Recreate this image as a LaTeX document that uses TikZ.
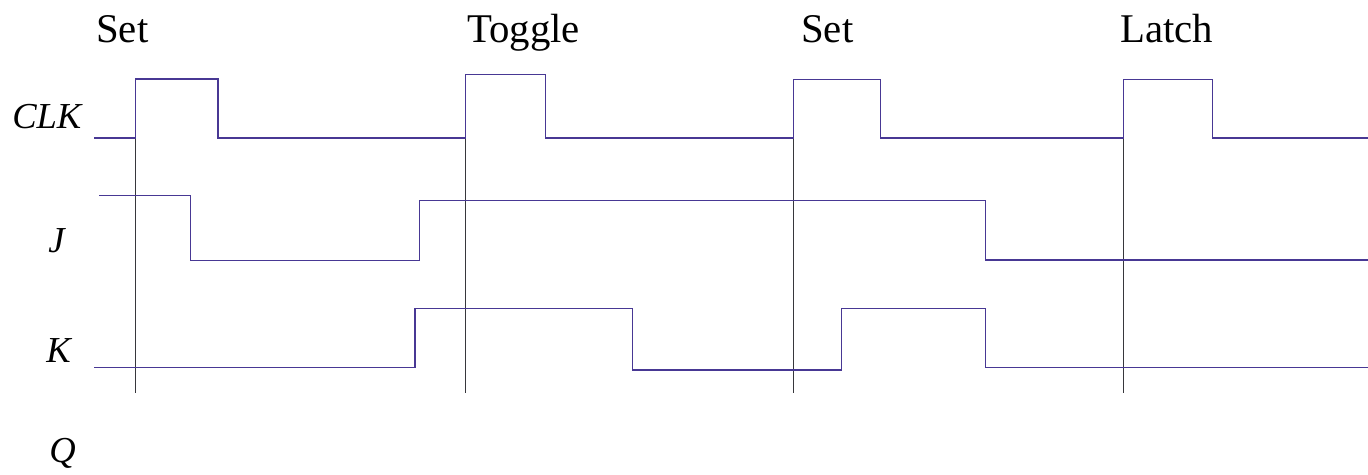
\documentclass[tikz,border=0pt]{standalone}
\usepackage{fontspec}
\setmainfont{Liberation Serif}
\definecolor{wavecol}{RGB}{72,56,148}
\definecolor{markcol}{RGB}{55,55,60}

\begin{document}
\begin{tikzpicture}[x=0.025cm, y=-0.025cm,
  wave/.style={line width=0.9pt, wavecol},
  marker/.style={line width=0.7pt, markcol},
  title/.style={anchor=base west, inner sep=0pt, font=\fontsize{29}{34}\selectfont},
  sig/.style={anchor=base west, inner sep=0pt, font=\fontsize{26}{31}\selectfont\itshape}]
\useasboundingbox (0,0) rectangle (1368,474);
\node[title] (setA) at (96,42) {Set};
\node[title] (toggle) at (467,42) {Toggle};
\node[title] (setB) at (801,42) {Set};
\node[title] (latch) at (1120,42) {Latch};
\node[sig] (clk) at (12,128) {CLK};
\node[sig] (j) at (48,252) {J};
\node[sig] (k) at (46,362) {K};
\node[sig] (q) at (49,462) {Q};
\foreach \x in {135.6,465.7,793.3,1123.3}
  \draw[marker] (\x,79) -- (\x,393);
\draw[wave] (94,138) -| (135.6,79) -| (218,138) -| (465.7,74.7) -| (545.7,138)
  -| (793.3,79.3) -| (880.3,138) -| (1123.3,79.3) -| (1212.3,138) -- (1368,138);
\draw[wave] (99,195.7) -| (190.3,260.3) -| (419.7,200.7) -| (985.7,260) -- (1368,260);
\draw[wave] (94,367.3) -| (415,308.5) -| (632.7,370) -| (841.7,308.3) -| (985.7,367.7) -- (1368,367.7);
\end{tikzpicture}
\end{document}
